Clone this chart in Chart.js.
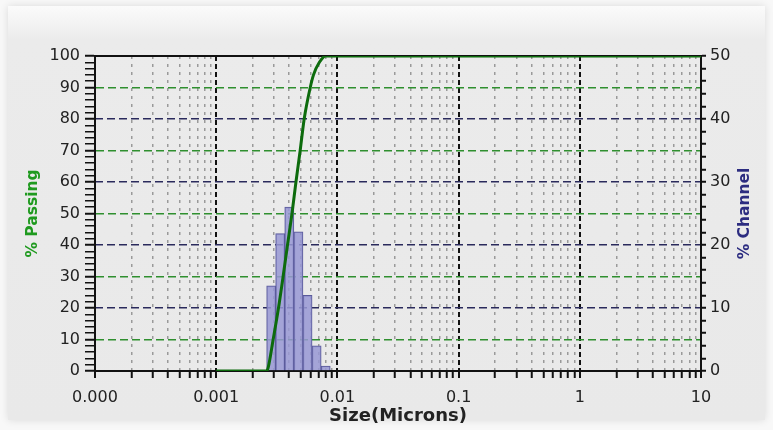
<!DOCTYPE html>
<html>
<head>
<meta charset="utf-8">
<script src="https://cdn.jsdelivr.net/npm/chart.js@4.4.1/dist/chart.umd.min.js"></script>
<style>
  html, body { margin: 0; padding: 0; background: #f8f8f8; }
  #wrap { position: relative; width: 773px; height: 430px; overflow: hidden; }
  #panel { position: absolute; left: 8px; top: 6px; width: 757px; height: 414px;
           background: linear-gradient(#fbfbfb 0px, #ebebeb 34px, #e9e9e9 100%);
           box-shadow: 0 0 8px rgba(0,0,0,0.12); }
  #myChart { position: absolute; left: 0; top: 0; }
</style>
</head>
<body>
<div id="wrap">
  <div id="panel"></div>
  <canvas id="myChart" width="773" height="430"></canvas>
</div>
<script>
// x axis: decades shown as labels
decades = [0.0001, 0.001, 0.01, 0.1, 1, 10]
xTickLabels = ['0.000', '0.001', '0.01', '0.1', '1', '10']

// % passing curve (cumulative)
passSize = [0.001, 0.0026, 0.00268, 0.00295, 0.00325, 0.00355, 0.00386, 0.00422, 0.00455, 0.00493, 0.00532, 0.00597, 0.00635, 0.0071, 0.0080, 10]
passPct  = [0,     0,      1,       10,      19.5,    29.5,    39.5,    50,      60,      70,      80,      90,      94,      98,     100,    100]

// % channel histogram, bin centres and heights
chanSize = [0.00284, 0.00337, 0.00401, 0.00477, 0.00567, 0.00674, 0.00801]
chanPct  = [13.5,    21.8,    26.0,    22.1,    12.0,    4.0,     0.8]

var green = '#0d6b0d'
var navy = '#2c2c80'
var font = {family: 'DejaVu Sans', size: 16}

function isDecade(v){
    return decades.findIndex(d => Math.abs(Math.log10(v) - Math.log10(d)) < 1e-6)
}

// all 1..9 x decade ticks for the size axis
minorTicks = []
for (let i = 0; i < decades.length - 1; i++) {
    for (let k = 1; k < 10; k++) minorTicks.push(decades[i] * k)
}
minorTicks.push(decades[decades.length - 1])

var framePlugin = {
    id: 'frame',
    beforeDatasetsDraw(chart){
        const a = chart.chartArea, c = chart.ctx
        c.save()
        c.strokeStyle = '#111'
        c.lineWidth = 2
        c.beginPath()
        c.moveTo(a.left, a.top)
        c.lineTo(a.right, a.top)
        c.stroke()
        c.restore()
    },
    afterDraw(chart){
        const a = chart.chartArea, c = chart.ctx
        c.save()
        c.translate(745, (a.top + a.bottom) / 2)
        c.rotate(-Math.PI / 2)
        c.fillStyle = navy
        c.font = 'bold 15.5px "DejaVu Sans"'
        c.textAlign = 'center'
        c.textBaseline = 'middle'
        c.fillText('% Channel', 0, 0)
        c.restore()
    }
}

var ctx = document.getElementById('myChart').getContext('2d');
var myChart = new Chart(ctx, {
    type: 'bar',
    data: {
        datasets: [{
            type: 'line',
            label: '% Passing',
            data: passSize.map((s, i) => ({x: s, y: passPct[i]})),
            xAxisID: 'x',
            yAxisID: 'y',
            borderColor: green,
            borderWidth: 3,
            pointRadius: 0,
            cubicInterpolationMode: 'monotone',
            fill: false,
            order: 1
        },
        {
            type: 'bar',
            label: '% Channel',
            data: chanSize.map((s, i) => ({x: s, y: chanPct[i]})),
            xAxisID: 'x',
            yAxisID: 'y1',
            backgroundColor: 'rgba(152,152,212,0.85)',
            borderColor: '#5a5a9a',
            borderWidth: 1,
            barThickness: 'flex',
            barPercentage: 1,
            categoryPercentage: 1,
            order: 2
        }]
    },
    options: {
        responsive: false,
        animation: false,
        layout: {padding: {top: 56, left: 0, right: 0, bottom: 0}},
        plugins: {legend: {display: false}, tooltip: {enabled: false}},
        scales: {
            x: {
                type: 'logarithmic',
                position: 'bottom',
                min: 0.0001,
                max: 10,
                offset: false,
                afterBuildTicks: s => { s.ticks = minorTicks.map(v => ({value: v})) },
                afterFit: s => { s.height = 59 },
                ticks: {
                    autoSkip: false,
                    maxRotation: 0,
                    color: '#222',
                    font: font,
                    padding: 10,
                    callback: v => { const i = isDecade(v); return i >= 0 ? xTickLabels[i] : '' }
                },
                grid: {
                    offset: false,
                    color: c => {
                        const i = isDecade(c.tick.value)
                        if (i === 0 || i === decades.length - 1) return 'rgba(0,0,0,0)'
                        return i >= 0 ? '#111' : '#9a9a9a'
                    },
                    lineWidth: c => isDecade(c.tick.value) >= 0 ? 2 : 1.5,
                    tickColor: '#111',
                    tickWidth: 2,
                    tickLength: 7
                },
                border: {
                    color: '#111', width: 2,
                    dash: c => isDecade(c.tick.value) >= 0 ? [5, 3] : [3, 5]
                },
                title: {
                    display: true,
                    text: 'Size(Microns)',
                    color: '#222',
                    font: {family: 'DejaVu Sans', size: 18, weight: 'bold'},
                    padding: {top: 0, bottom: 3}
                }
            },
            y: {
                position: 'left',
                min: 0,
                max: 100,
                afterFit: s => { s.width = 95 },
                ticks: {
                    stepSize: 2,
                    autoSkip: false,
                    color: '#222',
                    font: font,
                    padding: 5,
                    callback: v => v % 10 === 0 ? v : ''
                },
                grid: {
                    // green lines at 10, 30, 50, 70, 90 (the others are under the right axis grid)
                    color: c => (c.tick.value % 20 === 10) ? '#2f8f2f' : 'rgba(0,0,0,0)',
                    lineWidth: 1.5,
                    tickColor: '#111',
                    tickWidth: c => c.tick.value % 10 === 0 ? 2 : 1.5,
                    tickLength: 10
                },
                border: {color: '#111', width: 2, dash: [8, 4]},
                title: {
                    display: true,
                    text: '% Passing',
                    color: '#1f9a1f',
                    font: {family: 'DejaVu Sans', size: 15.5, weight: 'bold'},
                    padding: {top: 24, bottom: 0}
                }
            },
            y1: {
                position: 'right',
                min: 0,
                max: 50,
                afterFit: s => { s.width = 72 },
                ticks: {
                    stepSize: 2,
                    autoSkip: false,
                    color: '#222',
                    font: font,
                    padding: 4,
                    callback: v => v % 10 === 0 ? v : ''
                },
                grid: {
                    color: c => (c.tick.value % 10 === 0 && c.tick.value > 0 && c.tick.value < 50) ? '#2a2a5c' : 'rgba(0,0,0,0)',
                    lineWidth: 1.5,
                    tickColor: '#111',
                    tickWidth: 2,
                    tickLength: 5
                },
                border: {color: '#111', width: 2, dash: [8, 4]}
            }
        }
    },
    plugins: [framePlugin]
});
</script>
</body>
</html>
